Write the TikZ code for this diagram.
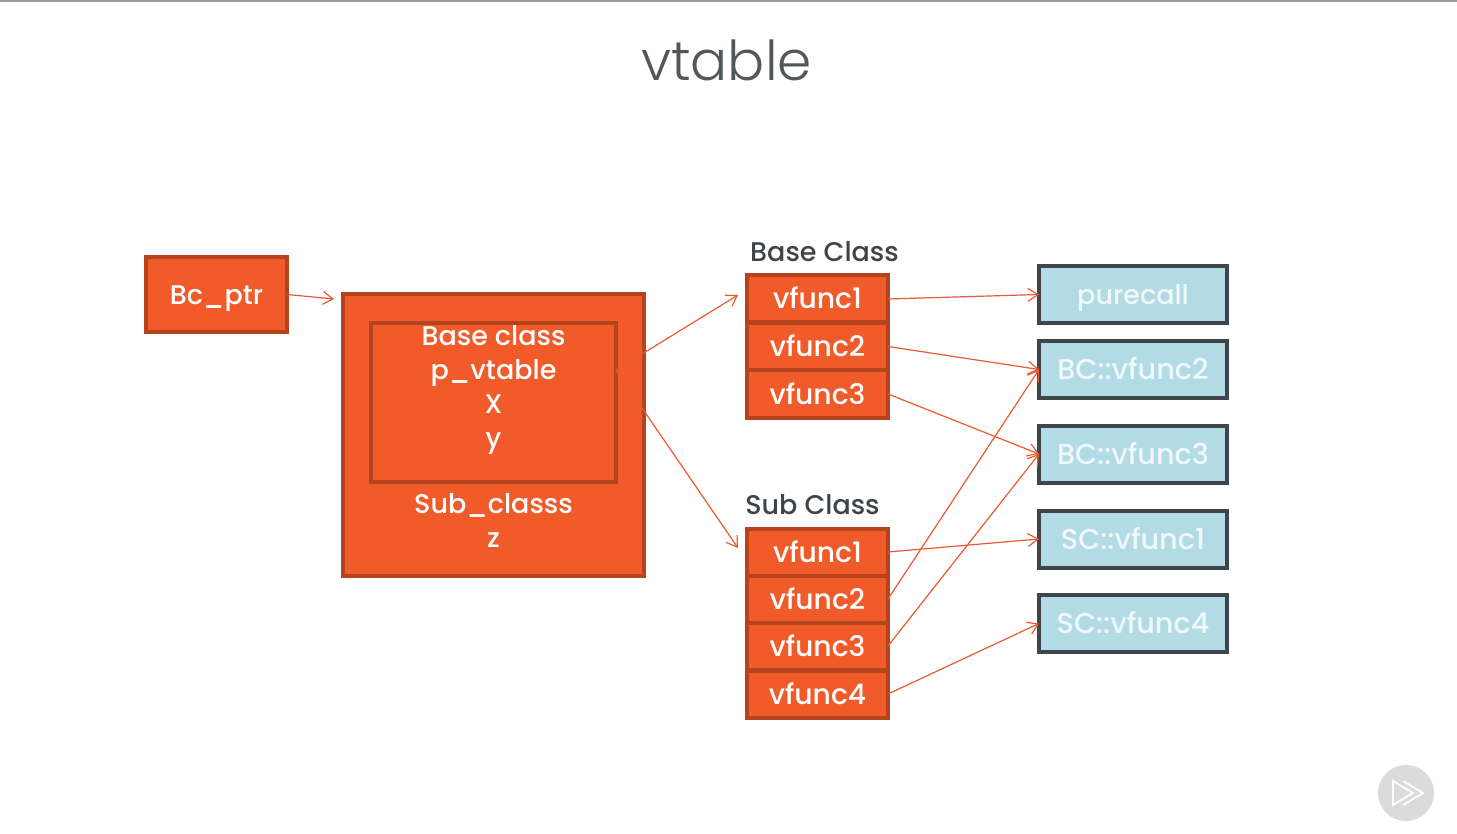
\documentclass[tikz,border=0pt]{standalone}
\usepackage{fontspec}
\setmainfont{Poppins Medium}
\newfontfamily\titlefont{Poppins Light}
\usetikzlibrary{arrows.meta}
\definecolor{orangefill}{HTML}{F15A29}
\definecolor{orangeline}{HTML}{B5431D}
\definecolor{bluefill}{HTML}{B3DBE6}
\definecolor{darkline}{HTML}{3F464B}
\definecolor{headtext}{HTML}{3F4448}
\definecolor{bluetext}{HTML}{EFF8FA}
\definecolor{arrowcol}{HTML}{EA5A30}
\tikzset{
  x=1pt,y=-1pt,
  orangebox/.style n args={2}{draw=orangeline,fill=orangefill,line width=4pt,inner sep=0pt,outer sep=0pt,
    minimum width=#1pt,minimum height=#2pt,text=white,text height=20pt,text depth=0pt,font=\fontsize{27}{30}\selectfont},
  cell/.style={orangebox={141}{47},font=\fontsize{28.2}{30}\selectfont},
  target/.style={draw=darkline,fill=bluefill,line width=4pt,inner sep=0pt,outer sep=0pt,
    minimum width=188pt,minimum height=57pt,text=bluetext,text height=20pt,text depth=0pt,font=\fontsize{28.7}{30}\selectfont},
  heading/.style={text=headtext,inner sep=0pt,font=\fontsize{27}{30}\selectfont},
  body/.style={text=white,inner sep=0pt,align=center,anchor=north,font=\fontsize{27}{34}\selectfont},
  link/.style={draw=arrowcol,line width=1.2pt,-{Straight Barb[length=10pt,width=13pt,line width=1.2pt]}},
}
\begin{document}
\begin{tikzpicture}
\useasboundingbox (0,0) rectangle (1457,834);
\fill[white] (0,0) rectangle (1457,834);
\fill[black!40] (0,0) rectangle (1457,2);
\node[text=headtext!90,inner sep=0pt,font=\titlefont\fontsize{55}{60}\selectfont] (title) at (726.5,60) {vtable};

\node[orangebox={141}{75}] (ptr) at (216.5,294.5) {Bc\_ptr};
\node[orangebox={301}{282}] (outer) at (493.5,435) {};
\node[draw=orangeline,line width=4pt,inner sep=0pt,outer sep=0pt,minimum width=245pt,minimum height=159pt] (inner) at (493.5,402.5) {};
\node[body] (basetext) at (493.5,325) {Base class\\p\_vtable\\X\\y};
\node[body] (subtext) at (493.5,493) {Sub\_classs\\z};

\node[heading] (basehead) at (824.5,252) {Base Class};
\node[cell] (b1) at (817.5,299) {vfunc1};
\node[cell] (b2) at (817.5,346.5) {vfunc2};
\node[cell] (b3) at (817.5,394) {vfunc3};

\node[heading] (subhead) at (812.5,505) {Sub Class};
\node[cell] (s1) at (817.5,552) {vfunc1};
\node[cell] (s2) at (817.5,599) {vfunc2};
\node[cell] (s3) at (817.5,646) {vfunc3};
\node[cell] (s4) at (817.5,694) {vfunc4};

\node[target,font=\fontsize{27}{30}\selectfont] (pc) at (1133,294.5) {purecall};
\node[target] (bc2) at (1133,369.5) {BC::vfunc2};
\node[target] (bc3) at (1133,454) {BC::vfunc3};
\node[target] (sc1) at (1133,539) {SC::vfunc1};
\node[target] (sc4) at (1133,623.5) {SC::vfunc4};

\coordinate (ptrend) at (334,299);
\coordinate (baseend) at (738,295);
\coordinate (subend) at (738,548);
\coordinate (vp) at (616,370);
\draw[link] (ptr.east) -- (ptrend);
\draw[link] (vp) -- (baseend);
\draw[link] (vp) -- (subend);
\draw[link] (b1.east) -- (pc.west);
\draw[link] (b2.east) -- (bc2.west);
\draw[link] (b3.east) -- (bc3.west);
\draw[link] (s1.east) -- (sc1.west);
\draw[link] (s2.east) -- (bc2.west);
\draw[link] (s3.east) -- (bc3.west);
\draw[link] (s4.east) -- (sc4.west);

\fill[black!14] (1406,793) circle (28);
\draw[white,line width=1.8pt,line join=miter] (1393,781) -- (1393,805) -- (1413,793) -- cycle;
\draw[white,line width=1.8pt,line join=miter] (1403,781) -- (1423,793) -- (1403,805);
\end{tikzpicture}
\end{document}
